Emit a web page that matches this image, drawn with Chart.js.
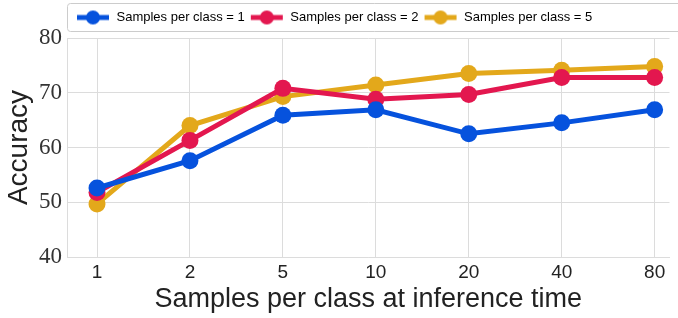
<!DOCTYPE html>
<html>
<head>
<meta charset="utf-8">
<script src="https://cdn.jsdelivr.net/npm/chart.js@4"></script>
<style>
  html, body { margin: 0; padding: 0; background: #fff; }
  #wrap { width: 678px; height: 318px; }
</style>
</head>
<body>
<div id="wrap"><canvas id="chart"></canvas></div>
<script>
const categories = ['1', '2', '5', '10', '20', '40', '80'];
const seriesNames = ['Samples per class = 1', 'Samples per class = 2', 'Samples per class = 5'];
const samples1 = [52.6, 57.6, 65.9, 66.9, 62.5, 64.5, 66.9];
const samples2 = [51.8, 61.3, 70.8, 68.8, 69.7, 72.8, 72.8];
const samples5 = [49.7, 64.0, 69.3, 71.4, 73.5, 74.1, 74.8];
const yTicks = [40, 50, 60, 70, 80];

const colors = ['#0652dd', '#e3174f', '#e3a81b'];
const gridColor = '#dcdcdc';

// little line-with-dot marker for the legend
function makeMarker(color) {
  const c = document.createElement('canvas');
  c.width = 34; c.height = 16;
  const g = c.getContext('2d');
  g.strokeStyle = color;
  g.lineWidth = 5;
  g.beginPath(); g.moveTo(1, 8); g.lineTo(33, 8); g.stroke();
  g.fillStyle = color;
  g.beginPath(); g.arc(17, 8, 7, 0, Math.PI * 2); g.fill();
  return c;
}
const markers = colors.map(makeMarker);

// move the legend next to the plot and draw the frame round it
const legendFrame = {
  id: 'legendFrame',
  beforeDraw(chart) {
    const lg = chart.legend;
    const dx = 71 - lg.left;
    lg.left += dx;
    lg.right += dx;
    lg.top = 6;
  },
  afterDraw(chart) {
    const ctx = chart.ctx;
    ctx.save();
    ctx.strokeStyle = '#cccccc';
    ctx.lineWidth = 1;
    ctx.beginPath();
    ctx.roundRect(chart.chartArea.left + 0.5, 3.5, chart.width - chart.chartArea.left + 4, 28, 3);
    ctx.stroke();
    ctx.restore();
  }
};

const toPoints = arr => arr.map((v, i) => ({ x: i, y: v }));
const allSeries = [samples1, samples2, samples5];

new Chart(document.getElementById('chart'), {
  type: 'line',
  data: {
    datasets: allSeries.map((vals, i) => ({
      label: seriesNames[i],
      data: toPoints(vals),
      borderColor: colors[i],
      backgroundColor: colors[i],
      borderWidth: 5,
      pointRadius: 8.5,
      pointHoverRadius: 8.5,
      pointBorderWidth: 0,
      pointStyle: 'circle',
      tension: 0
    }))
  },
  options: {
    responsive: true,
    maintainAspectRatio: false,
    animation: false,
    layout: { padding: { top: 10, right: 0, bottom: 0, left: 0 } },
    plugins: {
      tooltip: { enabled: false },
      legend: {
        align: 'start',
        labels: {
          usePointStyle: true,
          pointStyleWidth: 34,
          boxHeight: 16,
          padding: 5,
          color: '#222',
          font: { family: 'Liberation Sans', size: 13 },
          generateLabels: chart => seriesNames.map((name, i) => ({
            text: name,
            pointStyle: markers[i],
            fillStyle: colors[i],
            strokeStyle: colors[i],
            lineWidth: 0,
            datasetIndex: i
          }))
        }
      }
    },
    scales: {
      x: {
        type: 'linear',
        min: -0.323,
        max: 6.16,
        afterBuildTicks: axis => { axis.ticks = categories.map((c, i) => ({ value: i })); },
        afterFit: axis => { axis.height = 61; },
        ticks: {
          callback: v => categories[v],
          color: '#222',
          padding: 4,
          maxRotation: 0,
          font: { family: 'Liberation Sans', size: 19 }
        },
        grid: { color: gridColor, drawTicks: false },
        border: { color: gridColor },
        title: {
          display: true,
          text: 'Samples per class at inference time',
          color: '#222',
          padding: { top: 0, bottom: 2 },
          font: { family: 'Liberation Sans', size: 27 }
        }
      },
      y: {
        min: 40,
        max: 80,
        afterBuildTicks: axis => { axis.ticks = yTicks.map(v => ({ value: v })); },
        afterFit: axis => { axis.width = 67; },
        ticks: {
          color: '#333',
          padding: 5,
          font: { family: 'Liberation Serif', size: 23 }
        },
        grid: { color: gridColor, drawTicks: false },
        border: { color: gridColor },
        title: {
          display: true,
          text: 'Accuracy',
          color: '#222',
          padding: 2,
          font: { family: 'Liberation Sans', size: 28 }
        }
      }
    }
  },
  plugins: [legendFrame]
});
</script>
</body>
</html>
